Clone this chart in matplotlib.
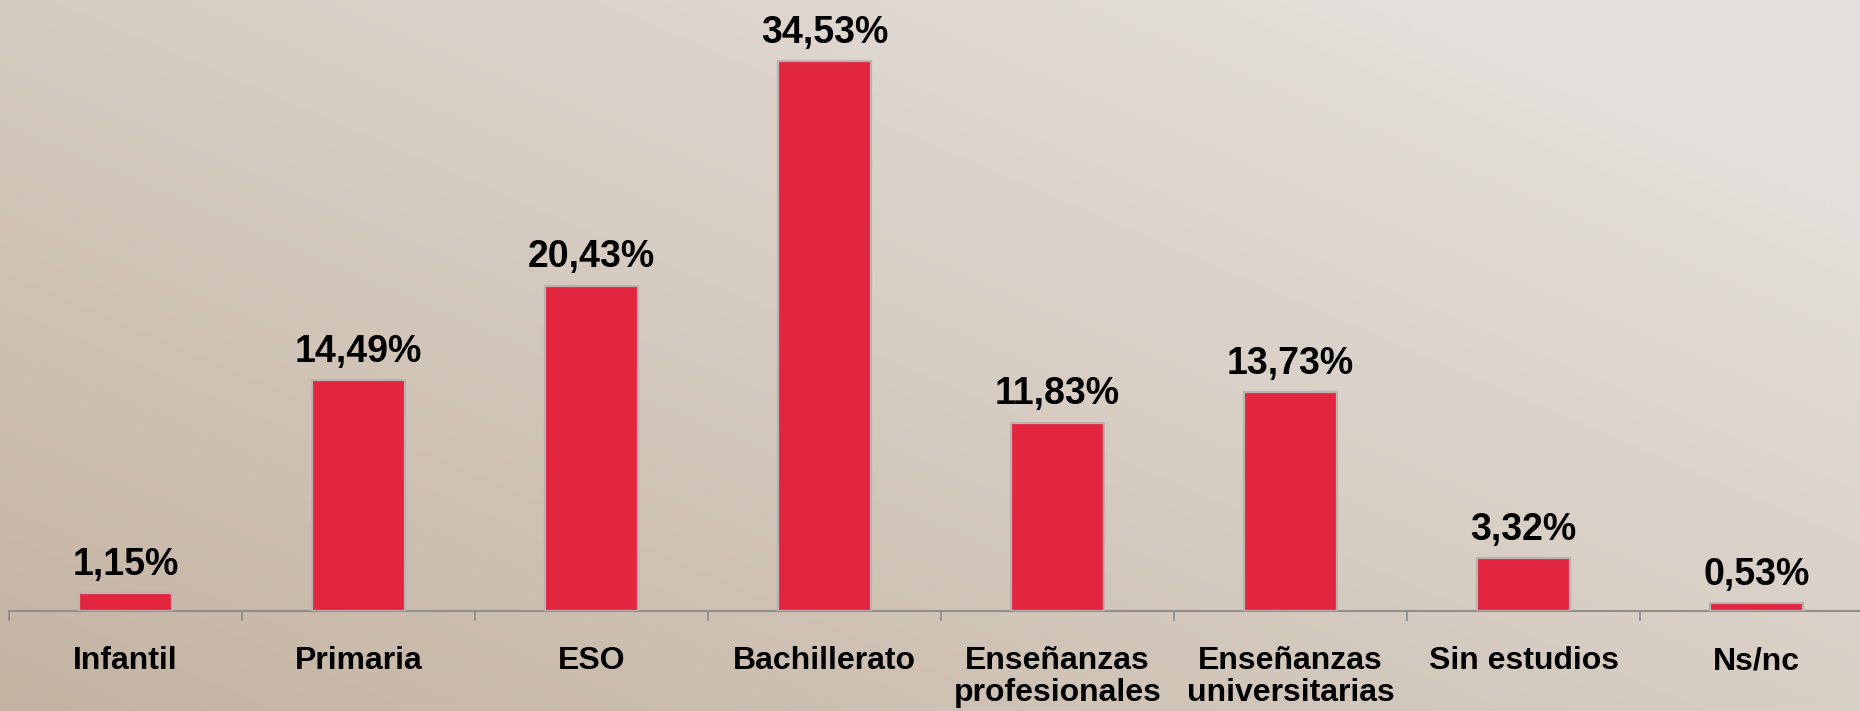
import numpy as np
import matplotlib
matplotlib.use("Agg")
import matplotlib.pyplot as plt
import matplotlib.transforms as mtransforms

categories = ["Infantil", "Primaria", "ESO", "Bachillerato",
              "Enseñanzas\nprofesionales", "Enseñanzas\nuniversitarias",
              "Sin estudios", "Ns/nc"]
values = [1.15, 14.49, 20.43, 34.53, 11.83, 13.73, 3.32, 0.53]
value_labels = ["1,15%", "14,49%", "20,43%", "34,53%", "11,83%", "13,73%", "3,32%", "0,53%"]

W, H, DPI = 1860, 711, 100
plt.rcParams['font.family'] = ['Liberation Sans', 'DejaVu Sans']
fig = plt.figure(figsize=(W / DPI, H / DPI), dpi=DPI)

# background gradient: darker tan bottom-left, lighter top-right
bg = fig.add_axes([0, 0, 1, 1], zorder=-10)
gx, gy = np.meshgrid(np.linspace(0, 1, 400), np.linspace(0, 1, 160))
t = np.clip(0.62 * gx + 0.55 * gy, 0, 1)  # gy=0 is bottom (origin lower)
c0 = np.array([0xc4, 0xb3, 0xa1]) / 255.0
c1 = np.array([0xe4, 0xdf, 0xda]) / 255.0
img = c0[None, None, :] * (1 - t[..., None]) + c1[None, None, :] * t[..., None]
bg.imshow(img, origin='lower', extent=[0, 1, 0, 1], aspect='auto', interpolation='bilinear')
bg.axis('off')

base_px = 611
ppu = 15.93
left_px = 9
cat_w = 233
ax = fig.add_axes([left_px / W, (H - base_px) / H, 8 * cat_w / W, base_px / H])
ax.patch.set_alpha(0)
x = np.arange(len(categories))
ax.bar(x, values, width=0.40, color='#e2263f', edgecolor='#bdb2b2', linewidth=1.6, zorder=3)
ax.set_xlim(-0.5, 7.5)
ax.set_ylim(0, base_px / ppu)

for s in ['top', 'right', 'left']:
    ax.spines[s].set_visible(False)
ax.spines['bottom'].set_color('#8f8f8f')
ax.spines['bottom'].set_linewidth(1.5)
ax.set_yticks([])
ax.set_xticks(x)
ax.set_xticklabels([])
ax.tick_params(axis='x', which='major', length=0)
ax.set_xticks(np.arange(-0.5, 8.0, 1.0), minor=True)
ax.tick_params(axis='x', which='minor', length=7.5, width=1.3, color='#8f8f8f', direction='out')

for xi, v, lab in zip(x, values, value_labels):
    ax.annotate(lab, (xi, v), xytext=(0, 13), textcoords='offset points',
                ha='center', va='baseline', fontsize=27, fontweight='bold', color='black')

off = mtransforms.offset_copy(ax.get_xaxis_transform(), fig=fig, x=0, y=-35 * 72 / DPI, units='points')
for xi, cat in zip(x, categories):
    ax.text(xi, 0, cat, transform=off, ha='center', va='top', fontsize=23,
            fontweight='bold', color='black', linespacing=1.07)

fig.savefig('out.png', dpi=DPI)
